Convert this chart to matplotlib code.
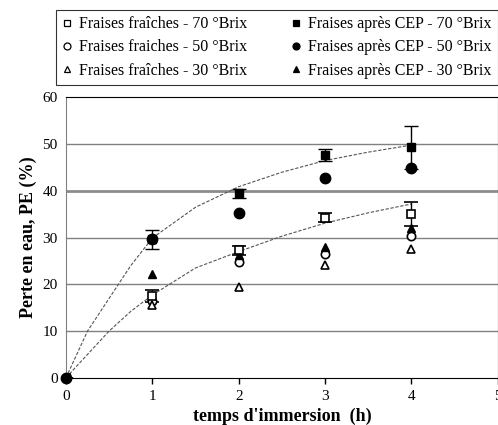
import matplotlib
matplotlib.use("Agg")
import matplotlib.pyplot as plt
from matplotlib.lines import Line2D

plt.rcParams['font.family'] = ['Liberation Serif', 'DejaVu Serif']

# temps d'immersion (h)
t = [0, 1, 2, 3, 4]

# Perte en eau (%) - fraises fraiches
fresh_70 = [0, 17.5, 27.3, 34.3, 35.0]
fresh_70_err = [0, 1.2, 1.0, 1.0, 2.6]
fresh_50 = [0, 16.5, 24.8, 26.4, 30.3]
fresh_30 = [0, 15.5, 19.4, 24.1, 27.6]

# Perte en eau (%) - fraises apres CEP
cep_70 = [0, 29.6, 39.5, 47.7, 49.3]
cep_70_err = [0, 2.0, 1.0, 1.2, 4.6]
cep_50 = [0, 29.7, 35.3, 42.7, 45.0]
cep_30 = [0, 22.3, 26.3, 28.0, 32.1]

# courbes de modele
fit_t = [0, 0.25, 0.5, 0.75, 1, 1.5, 2, 2.5, 3, 3.5, 4]
fit_cep = [0, 10.0, 17.0, 24.0, 29.9, 36.5, 40.9, 44.0, 46.5, 48.3, 49.8]
fit_fresh = [0, 5.0, 10.0, 14.2, 17.7, 23.5, 27.0, 30.3, 33.1, 35.3, 37.2]

fig = plt.figure(figsize=(4.98, 4.25), dpi=100)
ax = fig.add_axes([0.1325, 0.1113, 0.867, 0.6593])

for y in [10, 20, 30, 50]:
    ax.axhline(y, color='#808080', lw=1.0, zorder=0)
ax.axhline(40, color='#8c8c8c', lw=2.0, zorder=0)

ax.plot(fit_t, fit_cep, color='#555555', lw=0.8, ls=(0, (3, 1.5)), zorder=1)
ax.plot(fit_t, fit_fresh, color='#555555', lw=0.8, ls=(0, (3, 1.5)), zorder=1)

ms = 6
ax.errorbar(t, fresh_70, yerr=fresh_70_err, fmt='s', mfc='white', mec='black', mew=1.2,
            ms=ms, ecolor='black', elinewidth=1, capsize=5, zorder=3)
ax.errorbar(t, cep_70, yerr=cep_70_err, fmt='s', color='black', ms=ms,
            ecolor='black', elinewidth=1, capsize=5, zorder=3)
ax.plot(t, fresh_50, 'o', mfc='white', mec='black', mew=1.2, ms=ms, zorder=3)
ax.plot(t, cep_50, 'o', color='black', ms=7.5, zorder=4, clip_on=False)
ax.plot(t, fresh_30, '^', mfc='white', mec='black', mew=1.2, ms=ms, zorder=3)
ax.plot(t, cep_30, '^', color='black', ms=ms, zorder=3)

ax.set_xlim(0, 5)
ax.set_ylim(0, 60)
ax.set_xticks([0, 1, 2, 3, 4, 5])
ax.set_yticks([0, 10, 20, 30, 40, 50, 60])
ax.tick_params(axis='both', labelsize=11, colors='black', length=4, width=1)
ax.tick_params(axis='x', pad=5)
ax.tick_params(axis='y', length=0, pad=6)
for side in ['top', 'bottom', 'right']:
    ax.spines[side].set_color('black')
ax.spines['left'].set_color('#808080')

ax.set_ylabel('Perte en eau, PE (%)', fontsize=13, fontweight='bold', labelpad=4)
ax.set_xlabel("temps d'immersion  (h)", fontsize=13, fontweight='bold', labelpad=3)

def mk(marker, filled):
    return Line2D([], [], ls='none', marker=marker, ms=5, mew=0.9, mec='black',
                  mfc='black' if filled else 'white')

handles = [mk('s', False), mk('o', False), mk('^', False),
           mk('s', True), mk('o', True), mk('^', True)]
labels = ['Fraises fraîches - 70 °Brix', 'Fraises fraiches - 50 °Brix',
          'Fraises fraîches - 30 °Brix', 'Fraises après CEP - 70 °Brix',
          'Fraises après CEP - 50 °Brix', 'Fraises après CEP - 30 °Brix']
leg = fig.legend(handles, labels, ncol=2, loc='upper right', bbox_to_anchor=(0.999, 0.977),
                 fontsize=11.5, frameon=True, fancybox=False, edgecolor='black',
                 handlelength=0.6, handletextpad=0.45, columnspacing=2.7,
                 labelspacing=0.45, borderpad=0.4, borderaxespad=0)
leg.get_frame().set_linewidth(0.8)

fig.savefig('out.png', dpi=100)
